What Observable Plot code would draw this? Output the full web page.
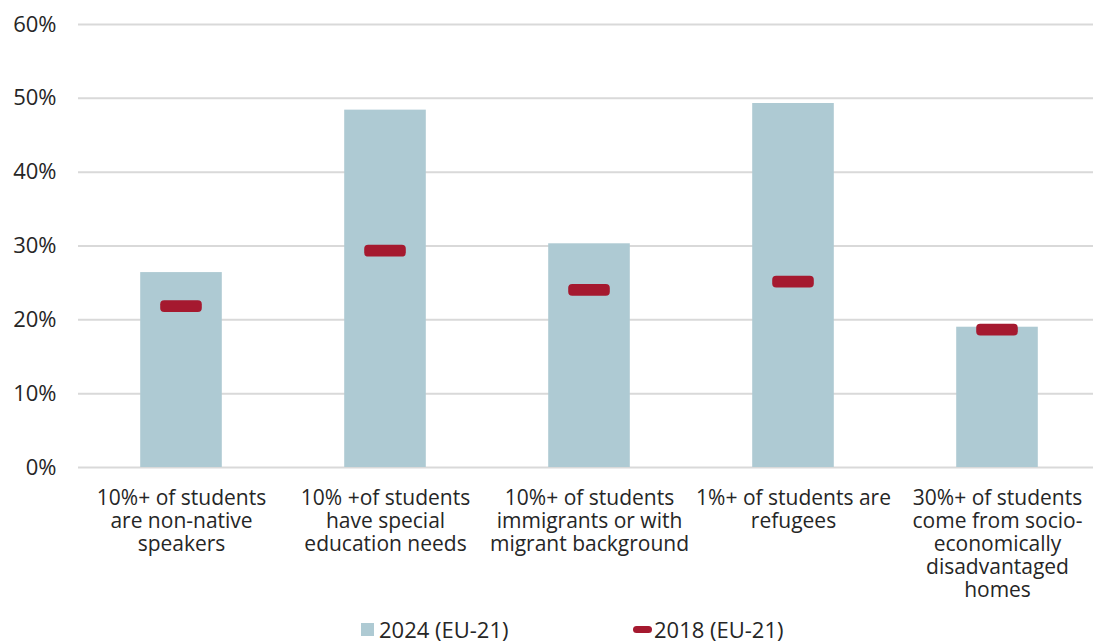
<!DOCTYPE html>
<html>
<head>
<meta charset="utf-8">
<script src="https://cdn.jsdelivr.net/npm/d3@7"></script>
<script src="https://cdn.jsdelivr.net/npm/@observablehq/plot@0.6"></script>
<style>
  body { margin: 0; background: #fff; font-family: "Open Sans", sans-serif; overflow: hidden; }
  #chart svg { display: block; }
  .legend { position: relative; height: 32px; font-size: 22px; color: #262626; font-family: "Open Sans", sans-serif; }
  .legend .item { position: absolute; top: 0; display: flex; align-items: center; height: 34px; }
  .sw-bar { width: 13px; height: 13px; background: #aecad3; margin-right: 5px; }
  .sw-mark { width: 19px; height: 7px; border-radius: 4px; background: #a5192f; margin-right: 2px; }
</style>
</head>
<body>
<div id="chart"></div>
<div class="legend">
  <div class="item" style="left:361px"><span class="sw-bar"></span><span>2024 (EU-21)</span></div>
  <div class="item" style="left:633px"><span class="sw-mark"></span><span>2018 (EU-21)</span></div>
</div>
<script>
const categories = [
  "10%+ of students\nare non-native\nspeakers",
  "10% +of students\nhave special\neducation needs",
  "10%+ of students\nimmigrants or with\nmigrant background",
  "1%+ of students are\nrefugees",
  "30%+ of students\ncome from socio-\neconomically\ndisadvantaged\nhomes"
];
const values2024 = [26.4, 48.4, 30.3, 49.3, 19.0];
const values2018 = [21.8, 29.3, 24.0, 25.1, 18.6];
const yTicks = [0, 10, 20, 30, 40, 50, 60];

const data = categories.map((c, i) => ({cat: c, v24: values2024[i], v18: values2018[i]}));
const half = 0.8; // half thickness of the 2018 marker, in percentage points

const chart = Plot.plot({
  width: 1093,
  height: 612,
  marginTop: 24,
  marginBottom: 145,
  marginLeft: 78,
  marginRight: 0,
  style: {fontFamily: "Open Sans, sans-serif", fontSize: "21px", color: "#262626"},
  x: {domain: categories, padding: 0, range: [78, 1100], label: null},
  y: {domain: [0, 60], label: null},
  marks: [
    Plot.gridY(yTicks, {stroke: "#d9d9d9", strokeOpacity: 1, strokeWidth: 2}),
    Plot.barY(data, {x: "cat", y: "v24", fill: "#aecad3", insetLeft: 61.2, insetRight: 61.2}),
    Plot.barY(data, {x: "cat", y1: d => d.v18 - half, y2: d => d.v18 + half, fill: "#a5192f", insetLeft: 81.2, insetRight: 81.2, rx: 4}),
    Plot.axisY(yTicks, {tickSize: 0, tickPadding: 22, tickFormat: d => d + "%", fontSize: 22, fill: "#262626"}),
    Plot.axisX({tickSize: 0, tickPadding: 21, fontSize: 21, fill: "#262626", lineHeight: 1.1, textOverflow: null})
  ]
});
document.getElementById("chart").appendChild(chart);
</script>
</body>
</html>
